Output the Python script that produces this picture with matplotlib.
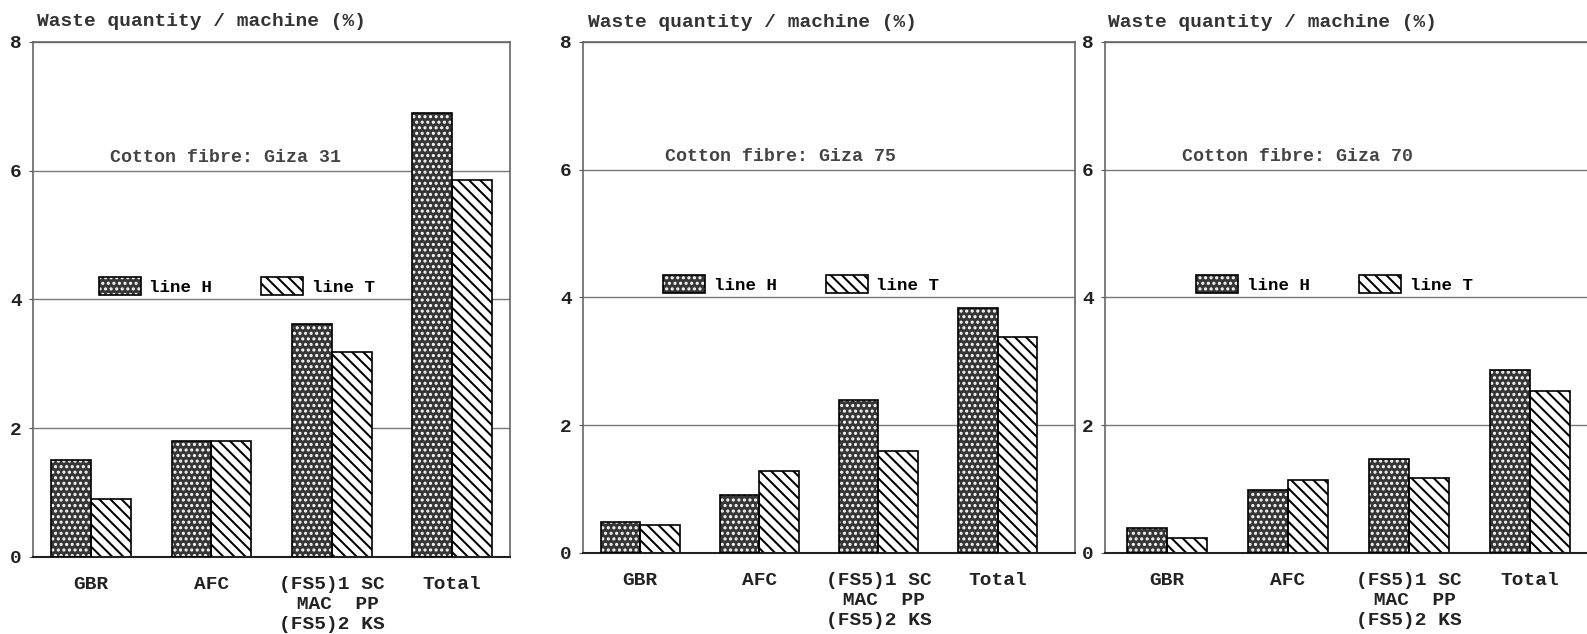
import numpy as np
import matplotlib
matplotlib.use('Agg')
import matplotlib.pyplot as plt

plt.rcParams['font.family'] = ['Liberation Mono', 'DejaVu Sans Mono']
plt.rcParams['font.weight'] = 'bold'
plt.rcParams['hatch.linewidth'] = 1.45

categories = ['GBR', 'AFC', '(FS5)1 SC\n MAC  PP\n(FS5)2 KS', 'Total']
fibres = ['Giza 31', 'Giza 75', 'Giza 70']

# waste quantity per machine (%), line H and line T
giza31_H = [1.5, 1.8, 3.62, 6.9]
giza31_T = [0.9, 1.8, 3.18, 5.85]
giza75_H = [0.48, 0.9, 2.39, 3.83]
giza75_T = [0.44, 1.28, 1.59, 3.38]
giza70_H = [0.39, 0.98, 1.47, 2.86]
giza70_T = [0.23, 1.14, 1.17, 2.53]

line_H = [giza31_H, giza75_H, giza70_H]
line_T = [giza31_T, giza75_T, giza70_T]

fig = plt.figure(figsize=(15.87, 6.34), dpi=100)

# axes boxes in figure fraction, and x limits
boxes = [[0.0208, 0.1215, 0.3006, 0.8123],
         [0.3674, 0.1278, 0.3100, 0.8060],
         [0.6963, 0.1278, 0.3037, 0.8060]]
xlims = [(-0.48, 3.48), (-0.48, 3.65), (-0.51, 3.47)]
title_x = [0.008, 0.01, 0.006]
cotton_x = [0.161, 0.167, 0.16]
legend_x = [0.123, 0.148, 0.175]

w = 0.33
x = np.arange(len(categories))
fs = 14

for i in range(3):
    ax = fig.add_axes(boxes[i])
    hf = ax.bar(x - w / 2, line_H[i], w, color='#363636', edgecolor='white',
                hatch='...', linewidth=0, zorder=2)
    he = ax.bar(x - w / 2, line_H[i], w, fill=False, edgecolor='black',
                linewidth=1.2, zorder=3)
    tb = ax.bar(x + w / 2, line_T[i], w, color='white', edgecolor='black',
                hatch='\\\\\\', linewidth=1.2, zorder=2)

    ax.set_ylim(0, 8)
    ax.set_xlim(*xlims[i])
    ax.set_yticks([0, 2, 4, 6, 8])
    ax.set_xticks(x)
    ax.set_xticklabels(categories, fontsize=fs, linespacing=1.2, color='#222222')
    ax.tick_params(axis='y', labelsize=fs, length=3, pad=5, color='#555',
                   labelcolor='#222222')
    ax.tick_params(axis='x', length=0, pad=14)
    ax.yaxis.grid(True, color='#777777', linewidth=1.0)
    ax.set_axisbelow(True)
    for s in ['top', 'left', 'right']:
        ax.spines[s].set_color('#666666')
        ax.spines[s].set_linewidth(1.2)
    ax.spines['bottom'].set_color('#222222')
    ax.spines['bottom'].set_linewidth(1.5)
    if i == 2:
        ax.spines['right'].set_visible(False)

    ax.text(title_x[i], 1.039, 'Waste quantity / machine (%)', transform=ax.transAxes,
            fontsize=fs, va='center', ha='left', color='#333333')
    ax.text(cotton_x[i], 0.775, 'Cotton fibre: ' + fibres[i], transform=ax.transAxes,
            fontsize=fs * 0.94, va='center', ha='left', color='#444444')

    ax.legend([(hf, he), tb], ['line H', 'line T'], ncol=2, frameon=False,
              loc='center left', bbox_to_anchor=(legend_x[i], 0.526),
              fontsize=fs * 0.9, handlelength=2.4, handleheight=1.2,
              handletextpad=0.5, columnspacing=2.8, borderaxespad=0)

fig.savefig('out.png', dpi=100)
